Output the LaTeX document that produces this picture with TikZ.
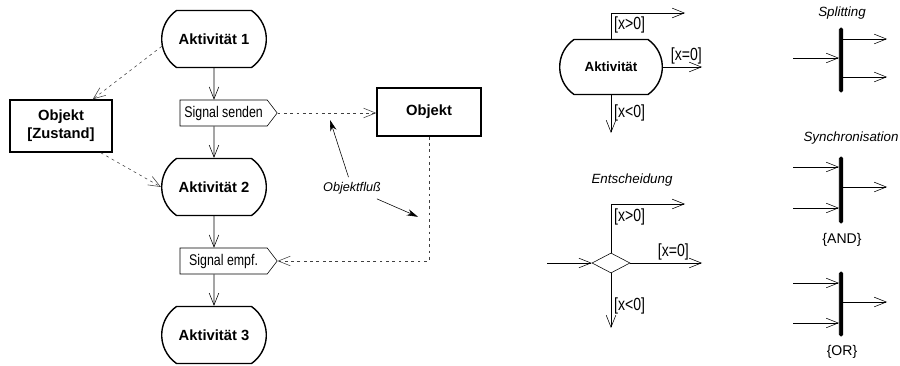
\documentclass[tikz,border=0pt]{standalone}
\usepackage{fontspec}
\setmainfont{Liberation Sans}
\newfontfamily\narrowfont[FakeStretch=0.8]{Liberation Sans}
\usetikzlibrary{arrows.meta,shapes.misc,shapes.symbols,shapes.geometric}

\begin{document}
\begin{tikzpicture}[thin,node distance=1.85cm,
  akt/.style={rounded rectangle,rounded rectangle arc length=110,draw,line width=1pt,
    minimum width=2.85cm,minimum height=1.425cm,font=\fontsize{10.5}{12}\selectfont\bfseries},
  obj/.style={rectangle,draw,line width=1pt,align=center,font=\fontsize{10.5}{13}\selectfont\bfseries},
  sig/.style={signal,draw,signal pointer angle=105,inner sep=0pt,minimum height=0.65cm,
    minimum width=2.43cm,font=\fontsize{11}{12}\selectfont\narrowfont},
  arr/.style={-{Straight Barb[length=3mm,width=2.4mm]}},
  flow/.style={arr,black!75,dash pattern=on 2pt off 2.5pt},
  note/.style={font=\fontsize{9.5}{11}\selectfont\itshape},
  guard/.style={font=\fontsize{12.5}{14}\selectfont\narrowfont,inner sep=2pt},
  bar/.style={rectangle,draw,fill,minimum width=2.5pt,minimum height=1.6cm,inner sep=0pt,rounded corners=1pt}]

  \useasboundingbox (0,0) rectangle (22.5,-9.125);

  % activity chain
  \node[akt] (akt1) at (5.35,-0.975) {Aktivität 1};
  \node[sig,signal to=east] (senden) [below of=akt1,xshift=0.24cm] {Signal senden};
  \node[akt] (akt2) [below of=akt1,node distance=3.7cm] {Aktivität 2};
  \node[sig,signal from=east] (empf) [below of=akt2,xshift=0.24cm] {Signal empf.};
  \node[akt] (akt3) [below of=akt2,node distance=3.7cm] {Aktivität 3};
  \draw[arr] (akt1) -- (akt1 |- senden.north);
  \draw[arr] (akt1 |- senden.south) -- (akt2);
  \draw[arr] (akt2) -- (akt2 |- empf.north);
  \draw[arr] (akt2 |- empf.south) -- (akt3);

  % objects and object flow
  \node[obj,minimum width=2.55cm,minimum height=1.3cm] (zust) at (1.525,-3.15) {Objekt\\{[Zustand]}};
  \node[obj,minimum width=2.6cm,minimum height=1.2cm] (objekt) at (10.725,-2.8) {Objekt};
  \draw[flow] (akt1.188) -- ([xshift=-0.5cm]zust.north east);
  \draw[flow] ([xshift=-0.3cm]zust.south east) -- (akt2.west);
  \draw[flow] (senden.east) -- (objekt.west |- senden.east);
  \draw[flow] (objekt.south) |- (empf.east);

  \node[note,font=\fontsize{9}{10}\selectfont\itshape] (fluss) at (8.8,-4.7) {Objektfluß};
  \coordinate (f1) at (8.25,-3.0);
  \coordinate (f2) at (10.45,-5.42);
  \draw[-{Stealth[length=2.8mm,width=1.6mm]}] (fluss) -- (f1);
  \draw[-{Stealth[length=2.8mm,width=1.6mm]}] (fluss) -- (f2);

  % decision on an activity
  \node[akt,font=\fontsize{9.5}{11}\selectfont\bfseries,minimum width=2.8cm,minimum height=1.375cm] (akt) at (15.275,-1.675) {Aktivität};
  \coordinate (a1) at (17.125,-0.325);
  \coordinate (a2) at (17.55,-1.675);
  \coordinate (a3) at (15.275,-3.325);
  \draw[arr] (akt.north) |- node[guard,pos=0.27,right] {[x>0]} (a1);
  \draw[arr] (akt.east) -- node[guard,pos=0.6,above] {[x=0]} (a2);
  \draw[arr] (akt.south) -- node[guard,pos=0.46,right] {[x<0]} (a3);

  % decision diamond
  \node[note] (ent) at (15.8,-4.5) {Entscheidung};
  \node[diamond,draw,aspect=1.9,minimum width=0.95cm,minimum height=0.5cm,inner sep=0pt] (dec) at (15.275,-6.575) {};
  \coordinate (d0) at (13.675,-6.575);
  \coordinate (d1) at (17.125,-5.1);
  \coordinate (d2) at (17.55,-6.575);
  \coordinate (d3) at (15.275,-8.2);
  \draw[arr] (d0) -- (dec.west);
  \draw[arr] (dec.north) |- node[guard,pos=0.37,right] {[x>0]} (d1);
  \draw[arr] (dec.east) -- node[guard,pos=0.6,above] {[x=0]} (d2);
  \draw[arr] (dec.south) -- node[guard,pos=0.6,right] {[x<0]} (d3);

  % splitting
  \begin{scope}[shift={(21.025,-1.5)}]
    \node[bar] (split) at (0,0) {};
    \node[note] (splitlbl) at (0.025,1.175) {Splitting};
    \coordinate (s0) at (-1.2,0.05);
    \coordinate (s1) at (1.15,0.525);
    \coordinate (s2) at (1.15,-0.425);
    \draw[arr] (s0) -- (s0 -| split.west);
    \draw[arr] (split.east |- s1) -- (s1);
    \draw[arr] (split.east |- s2) -- (s2);
  \end{scope}

  % synchronisation, AND
  \begin{scope}[shift={(21.025,-4.75)}]
    \node[bar,minimum height=1.65cm] (sync) at (0,0) {};
    \node[note] (synclbl) at (0.25,1.3) {Synchronisation};
    \node[font=\fontsize{10}{12}\selectfont] (andlbl) at (0.025,-1.25) {\{AND\}};
    \coordinate (y0) at (-1.2,0.575);
    \coordinate (y1) at (-1.2,-0.45);
    \coordinate (y2) at (1.15,0.075);
    \draw[arr] (y0) -- (y0 -| sync.west);
    \draw[arr] (y1) -- (y1 -| sync.west);
    \draw[arr] (sync.east |- y2) -- (y2);
  \end{scope}

  % synchronisation, OR
  \begin{scope}[shift={(21.025,-7.6)}]
    \node[bar] (orbar) at (0,0) {};
    \node[font=\fontsize{10}{12}\selectfont] (orlbl) at (0.025,-1.2) {\{OR\}};
    \coordinate (o0) at (-1.2,0.525);
    \coordinate (o1) at (-1.2,-0.475);
    \coordinate (o2) at (1.15,0.05);
    \draw[arr] (o0) -- (o0 -| orbar.west);
    \draw[arr] (o1) -- (o1 -| orbar.west);
    \draw[arr] (orbar.east |- o2) -- (o2);
  \end{scope}

\end{tikzpicture}
\end{document}
